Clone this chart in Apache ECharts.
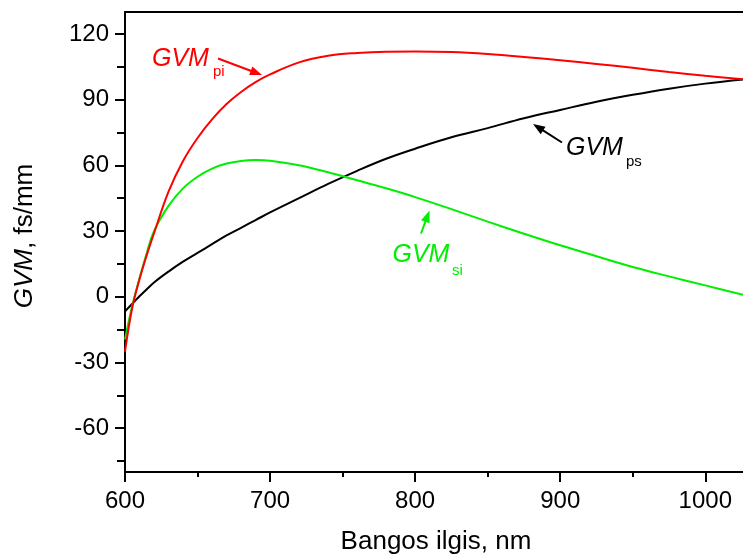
<!DOCTYPE html>
<html>
<head>
<meta charset="utf-8">
<script src="https://cdn.jsdelivr.net/npm/echarts@6/dist/echarts.min.js"></script>
<style>
  html, body { margin: 0; padding: 0; background: #fff; }
  #chart { width: 743px; height: 556px; }
</style>
</head>
<body>
<div id="chart"></div>
<script>
// Wavelength grid (nm) and group-velocity mismatch curves (fs/mm)
const wavelength = [600, 605, 610, 615, 620, 630, 640, 650, 660, 670, 680, 690, 700, 720, 740, 760, 780, 800, 825, 850, 875, 900, 925, 950, 975, 1000, 1026];
const gvmPi = [-25, -5, 8, 19, 29, 48, 62, 72.5, 81, 88, 93.5, 98, 101.5, 107, 110, 111.3, 111.9, 112, 111.7, 110.8, 109.5, 108, 106.3, 104.5, 102.6, 100.9, 99.3];
const gvmSi = [-19.5, -4, 8.5, 20, 30, 41.5, 49.5, 54.8, 58.5, 60.8, 62, 62.4, 62.1, 60, 56.8, 53.2, 49.5, 45.5, 40, 34.3, 28.8, 23.5, 18.5, 13.6, 9.3, 5.2, 0.9];
const gvmPs = [-6.7, -3.2, 0.2, 3.4, 6.5, 11.5, 16, 20, 24, 28, 31.5, 35, 38.5, 45, 51.5, 57.5, 63, 67.6, 72.8, 77, 81.5, 85.3, 89, 92.2, 95, 97.3, 99.2];

// Tick positions
const xMajorTicks = [600, 700, 800, 900, 1000];
const xMinorTicks = [650, 750, 850, 950];
const yMajorTicks = [-60, -30, 0, 30, 60, 90, 120];
const yMinorTicks = [-75, -45, -15, 15, 45, 75, 105];

const xMin = 600, xMax = 1026;
const yMin = -80, yMax = 130;

const FONT = '"Liberation Sans", Arial, sans-serif';
const BLACK = '#000000';
const RED = '#ff0000';
const GREEN = '#00ee00';

function pairs(values) {
  return wavelength.map((w, i) => [w, values[i]]);
}

function arrow(x1, y1, x2, y2, color) {
  const dx = x2 - x1, dy = y2 - y1;
  const len = Math.hypot(dx, dy);
  const ux = dx / len, uy = dy / len;
  const headLen = 12, headHalf = 4.5;
  const bx = x2 - ux * headLen, by = y2 - uy * headLen;
  return [
    { type: 'line', z: 10, shape: { x1: x1, y1: y1, x2: bx + ux * 2, y2: by + uy * 2 },
      style: { stroke: color, lineWidth: 2 } },
    { type: 'polygon', z: 10,
      shape: { points: [[x2, y2], [bx - uy * headHalf, by + ux * headHalf], [bx + uy * headHalf, by - ux * headHalf]] },
      style: { fill: color } }
  ];
}

function gvmLabel(x, y, subX, subY, sub, color) {
  return [
    { type: 'text', z: 10, style: { x: x, y: y, text: 'GVM', fill: color,
      font: 'italic 25px ' + FONT, verticalAlign: 'middle', align: 'left' } },
    { type: 'text', z: 10, style: { x: subX, y: subY, text: sub, fill: color,
      font: '15px ' + FONT, verticalAlign: 'middle', align: 'left' } }
  ];
}

const chart = echarts.init(document.getElementById('chart'), null, { renderer: 'canvas' });

const axisLineStyle = { color: BLACK, width: 2 };
const plainNumber = (v) => String(v);

const option = {
  backgroundColor: '#ffffff',
  animation: false,
  grid: { left: 125, top: 12, right: 0, bottom: 84, containLabel: false, outerBoundsMode: 'none' },
  xAxis: [
    {
      type: 'value', min: xMin, max: xMax, position: 'bottom',
      axisLine: { onZero: false, lineStyle: axisLineStyle },
      axisTick: { customValues: xMajorTicks, length: 10, lineStyle: axisLineStyle },
      axisLabel: { customValues: xMajorTicks, formatter: plainNumber, fontSize: 24, fontFamily: FONT, color: BLACK, margin: 17 },
      splitLine: { show: false }
    },
    {
      type: 'value', min: xMin, max: xMax, position: 'bottom',
      axisLine: { show: false, onZero: false },
      axisTick: { customValues: xMinorTicks, length: 5, lineStyle: axisLineStyle },
      axisLabel: { show: false },
      splitLine: { show: false }
    },
    {
      type: 'value', min: xMin, max: xMax, position: 'top',
      axisLine: { onZero: false, lineStyle: axisLineStyle },
      axisTick: { show: false },
      axisLabel: { show: false },
      splitLine: { show: false }
    }
  ],
  yAxis: [
    {
      type: 'value', min: yMin, max: yMax, position: 'left',
      axisLine: { onZero: false, lineStyle: axisLineStyle },
      axisTick: { customValues: yMajorTicks, length: 10, lineStyle: axisLineStyle },
      axisLabel: { customValues: yMajorTicks, formatter: plainNumber, fontSize: 24, fontFamily: FONT, color: BLACK, margin: 16 },
      splitLine: { show: false }
    },
    {
      type: 'value', min: yMin, max: yMax, position: 'left',
      axisLine: { show: false, onZero: false },
      axisTick: { customValues: yMinorTicks, length: 8, lineStyle: axisLineStyle },
      axisLabel: { show: false },
      splitLine: { show: false }
    }
  ],
  series: [
    { name: 'GVMps', type: 'line', data: pairs(gvmPs), showSymbol: false, smooth: 0.4,
      lineStyle: { color: BLACK, width: 2 }, z: 3 },
    { name: 'GVMsi', type: 'line', data: pairs(gvmSi), showSymbol: false, smooth: 0.4,
      lineStyle: { color: GREEN, width: 2 }, z: 4 },
    { name: 'GVMpi', type: 'line', data: pairs(gvmPi), showSymbol: false, smooth: 0.4,
      lineStyle: { color: RED, width: 2 }, z: 5 }
  ],
  graphic: [
    // axis titles
    { type: 'text', z: 10, style: { x: 436, y: 542, text: 'Bangos ilgis, nm', fill: BLACK,
      font: '26px ' + FONT, align: 'center', verticalAlign: 'middle' } },
    { type: 'text', z: 10, x: 25, y: 236, rotation: Math.PI / 2,
      style: { x: 0, y: 0, text: '{i|GVM}, fs/mm', fill: BLACK, font: '26px ' + FONT,
        align: 'center', verticalAlign: 'middle',
        rich: { i: { fontStyle: 'italic', fontSize: 26, fontFamily: FONT, fill: BLACK } } } },
    // curve annotations
    ...gvmLabel(152, 59.5, 213, 71.5, 'pi', RED),
    ...arrow(218, 58.5, 262, 75, RED),
    ...gvmLabel(566, 148, 626, 162, 'ps', BLACK),
    ...arrow(562, 142.5, 533, 124, BLACK),
    ...gvmLabel(392.5, 255, 452, 270.5, 'si', GREEN),
    ...arrow(421, 233.5, 429.5, 210.5, GREEN)
  ]
};

chart.setOption(option);
</script>
</body>
</html>
